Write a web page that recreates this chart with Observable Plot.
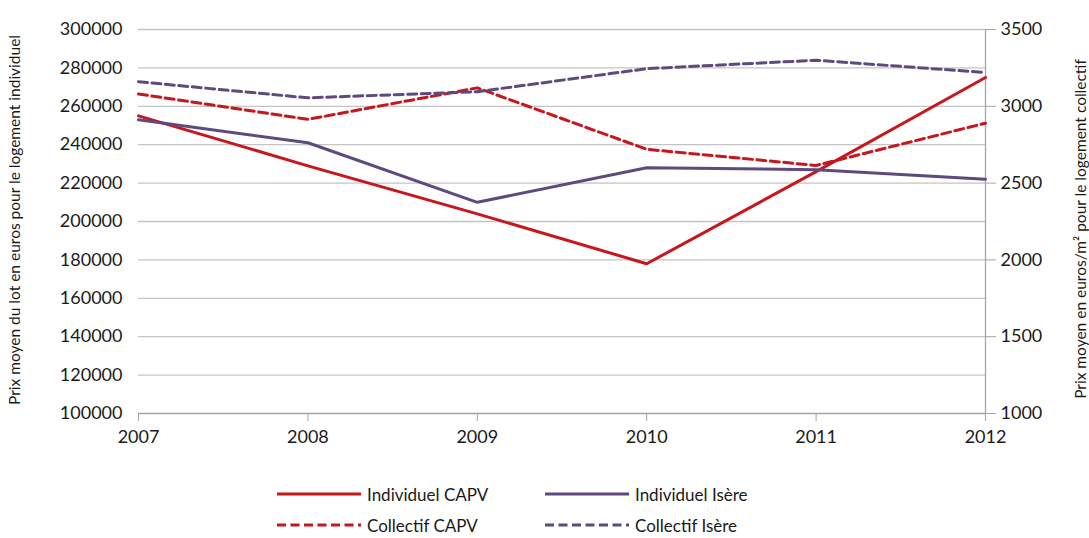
<!DOCTYPE html>
<html><head><meta charset="utf-8">
<script src="https://cdn.jsdelivr.net/npm/d3@7"></script>
<script src="https://cdn.jsdelivr.net/npm/@observablehq/plot@0.6"></script>
<style>
body{margin:0;background:#fff;font-family:Lato,sans-serif;color:#1a1a1a;}
#wrap{position:relative;width:1089px;height:538px;overflow:hidden;}
.ytitle{position:absolute;white-space:nowrap;transform:translate(-50%,-50%) rotate(-90deg);font-size:15.5px;color:#1a1a1a;}
#legend{position:absolute;left:0;top:460px;width:1089px;height:78px;}
.item{position:absolute;display:flex;align-items:center;font-size:17px;white-space:nowrap;}
.item svg{margin-right:6px;}
</style></head><body>
<div id="wrap">
<div id="chart"></div>
<div class="ytitle" style="left:14px;top:220px;">Prix moyen du lot en euros pour le logement individuel</div>
<div class="ytitle" style="left:1080px;top:229px;">Prix moyen en euros/m² pour le logement collectif</div>
<div id="legend"></div>
</div>
<script>
const years = [2007, 2008, 2009, 2010, 2011, 2012];
const individuelCAPV = [255000, 229000, 204000, 178000, 226000, 275000];
const individuelIsere = [253000, 241000, 210000, 228000, 227000, 222000];
const collectifCAPV = [3080, 2915, 3120, 2720, 2615, 2890];
const collectifIsere = [3160, 3055, 3095, 3245, 3300, 3220];
const leftTicks = [100000, 120000, 140000, 160000, 180000, 200000, 220000, 240000, 260000, 280000, 300000];
const rightTicks = [1000, 1500, 2000, 2500, 3000, 3500];
const seriesNames = ["Individuel CAPV", "Individuel Isère", "Collectif CAPV", "Collectif Isère"];
const RED = "#c8161d", PURPLE = "#5f4a7d";

// right axis (€/m²) mapped onto the left scale: 1000 -> 100000, 3500 -> 300000
const toLeft = v => 100000 + (v - 1000) * 80;
const fromLeft = y => Math.round((y - 100000) / 80 + 1000);

const mk = (vals, name, axis) => years.map((year, i) => ({year, value: vals[i], series: name, axis}));
const rows = [
  ...mk(individuelCAPV, seriesNames[0], "left"),
  ...mk(individuelIsere, seriesNames[1], "left"),
  ...mk(collectifCAPV, seriesNames[2], "right"),
  ...mk(collectifIsere, seriesNames[3], "right")
];
const yOf = d => d.axis === "left" ? d.value : toLeft(d.value);
const styles = {
  "Individuel CAPV": {stroke: RED, dash: null},
  "Individuel Isère": {stroke: PURPLE, dash: null},
  "Collectif CAPV": {stroke: RED, dash: "9,4.5"},
  "Collectif Isère": {stroke: PURPLE, dash: "9,4.5"}
};

const chart = Plot.plot({
  width: 1089, height: 460,
  marginTop: 29, marginBottom: 47, marginLeft: 138, marginRight: 104,
  style: {fontFamily: "Lato, sans-serif", fontSize: "18px", color: "#1a1a1a", background: "#fff"},
  x: {domain: [2007, 2012]},
  y: {domain: [100000, 300000]},
  marks: [
    Plot.gridY(leftTicks.slice(1), {stroke: "#c4c4c4", strokeOpacity: 1, strokeWidth: 1.3}),
    Plot.axisY(leftTicks, {anchor: "left", tickSize: 0, tickPadding: 16, tickFormat: d => String(d), label: null}),
    Plot.axisY(rightTicks.map(toLeft), {anchor: "right", tickSize: 10, tickPadding: 5, tickFormat: d => String(fromLeft(d)), stroke: "#a6a6a6", label: null}),
    Plot.axisX(years, {anchor: "bottom", tickSize: 8, tickPadding: 9, tickFormat: d => String(d), stroke: "#a6a6a6", label: null}),
    Plot.ruleY([100000], {stroke: "#a6a6a6", strokeWidth: 1.3}),
    Plot.ruleX([2012], {stroke: "#a6a6a6", strokeWidth: 1.3}),
    ...seriesNames.map(name => Plot.line(rows.filter(d => d.series === name), {
      x: "year", y: yOf, stroke: styles[name].stroke, strokeWidth: 3,
      strokeDasharray: styles[name].dash
    }))
  ]
});
document.getElementById("chart").appendChild(chart);

// legend
const legend = document.getElementById("legend");
const legendPos = [
  {name: seriesNames[0], left: 277, top: 34},
  {name: seriesNames[1], left: 545, top: 34},
  {name: seriesNames[2], left: 277, top: 65},
  {name: seriesNames[3], left: 545, top: 65}
];
legendPos.forEach(p => {
  const s = styles[p.name];
  const div = document.createElement("div");
  div.className = "item";
  div.style.left = p.left + "px";
  div.style.top = (p.top - 12) + "px";
  div.style.height = "24px";
  div.innerHTML = `<svg width="84" height="10"><line x1="0" x2="84" y1="5" y2="5" stroke="${s.stroke}" stroke-width="3" ${s.dash ? `stroke-dasharray="${s.dash}"` : ""}/></svg><span>${p.name}</span>`;
  legend.appendChild(div);
});
</script>
</body></html>
